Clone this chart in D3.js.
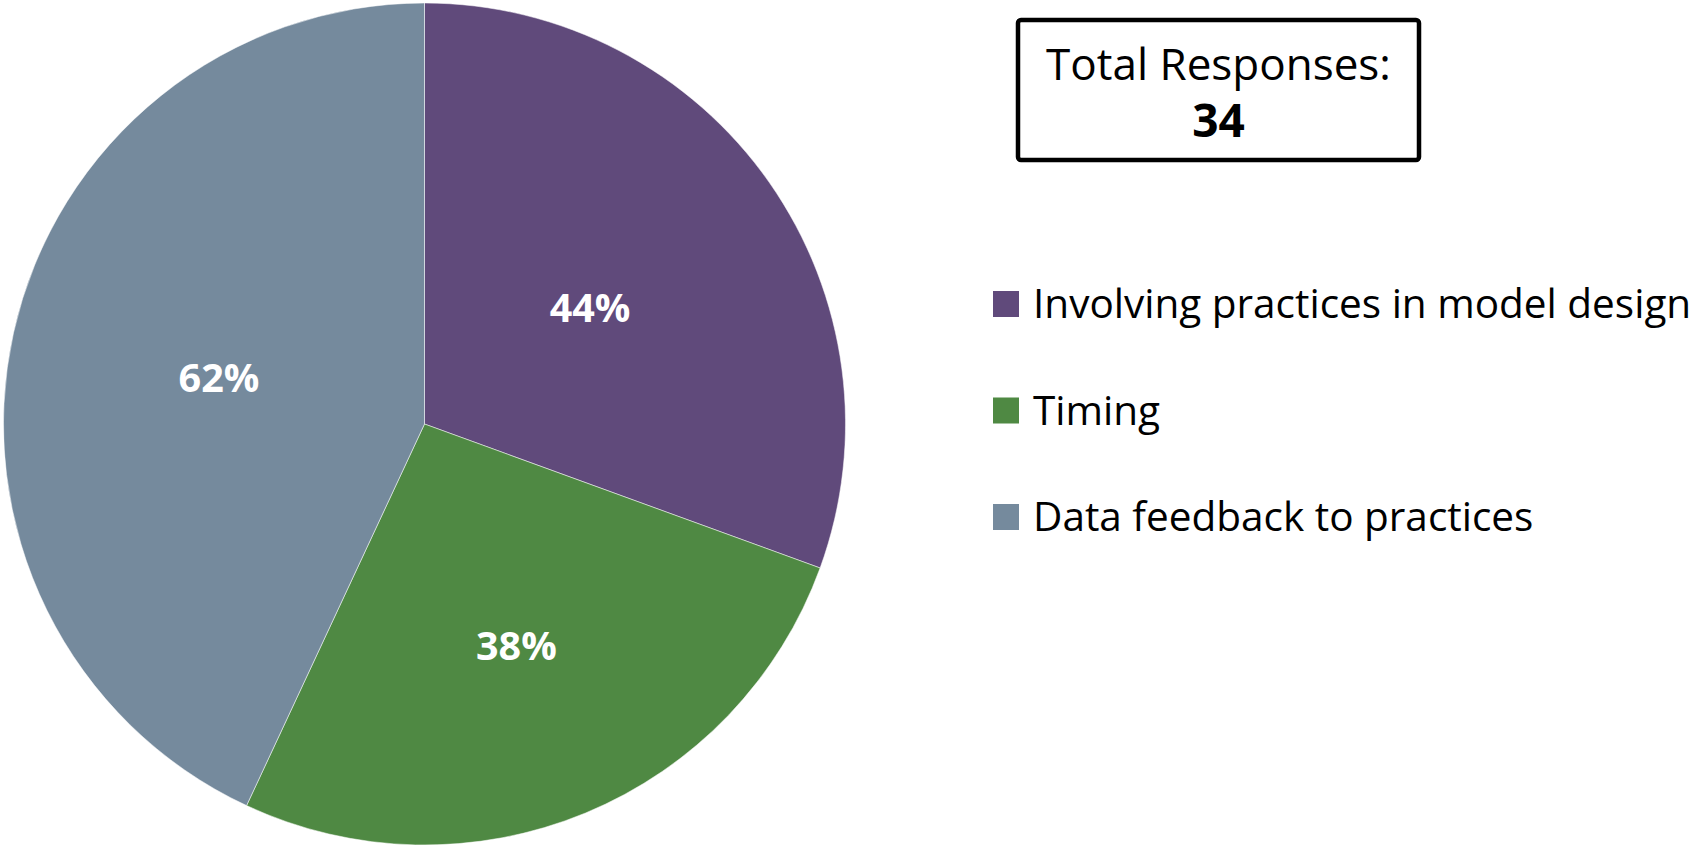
<!DOCTYPE html>
<html>
<head>
<meta charset="utf-8">
<script src="https://cdn.jsdelivr.net/npm/d3@7"></script>
<style>
  html, body { margin: 0; padding: 0; background: #fff; overflow: hidden; }
  svg { display: block; font-family: "Open Sans", "Noto Sans", sans-serif; }
</style>
</head>
<body>
<div id="chart"></div>
<script>
// chart data
const categories = ['Involving practices in model design', 'Timing', 'Data feedback to practices'];
const percents = [44, 38, 62];
const colors = ['#604A7B', '#4F8943', '#758A9D'];
const totalLabel = 'Total Responses:';
const totalResponses = 34;

const width = 1693;
const height = 846;

const svg = d3
  .select('#chart')
  .append('svg')
  .attr('width', width)
  .attr('height', height);

const cx = 424.5;
const cy = 424;
const radius = 421;

const color = d3.scaleOrdinal().domain(categories).range(colors);

const pie = d3
  .pie()
  .sort(null)
  .value((d) => d.value);

const slices = pie(categories.map((c, i) => ({ name: c, value: percents[i] })));

const arc = d3.arc().innerRadius(0).outerRadius(radius);

// labels sit around the middle of each slice, the small one a bit further out
const labelFrac = { Timing: 0.57, 'Data feedback to practices': 0.5 };
const labelArc = (d) => {
  const r = radius * (labelFrac[d.data.name] || 0.48);
  return d3.arc().innerRadius(r).outerRadius(r).centroid(d);
};

const pieG = svg.append('g').attr('transform', `translate(${cx}, ${cy})`);

pieG
  .selectAll('path')
  .data(slices)
  .join('path')
  .attr('d', arc)
  .attr('fill', (d) => color(d.data.name))
  .attr('stroke', '#fff')
  .attr('stroke-opacity', 0.5)
  .attr('stroke-width', 1);

pieG
  .selectAll('text')
  .data(slices)
  .join('text')
  .attr('transform', (d) => `translate(${labelArc(d)})`)
  .attr('text-anchor', 'middle')
  .attr('dy', '0.35em')
  .attr('fill', '#fff')
  .attr('font-weight', 'bold')
  .attr('font-size', 39.5)
  .text((d) => d.data.value + '%');

// total responses box
const box = { x: 1018, y: 20, w: 401, h: 140 };
const boxG = svg.append('g');
boxG
  .append('rect')
  .attr('x', box.x)
  .attr('y', box.y)
  .attr('width', box.w)
  .attr('height', box.h)
  .attr('rx', 3)
  .attr('fill', '#fff')
  .attr('stroke', '#000')
  .attr('stroke-width', 4.5);

boxG
  .append('text')
  .attr('x', box.x + box.w / 2)
  .attr('y', 80)
  .attr('text-anchor', 'middle')
  .attr('font-size', 44)
  .attr('fill', '#000')
  .text(totalLabel);

boxG
  .append('text')
  .attr('x', box.x + box.w / 2)
  .attr('y', 137)
  .attr('text-anchor', 'middle')
  .attr('font-size', 46)
  .attr('font-weight', 'bold')
  .attr('fill', '#000')
  .text(totalResponses);

// legend
const legendY = d3.scalePoint().domain(categories).range([304, 517]);

const legend = svg
  .append('g')
  .selectAll('g')
  .data(categories)
  .join('g')
  .attr('transform', (d) => `translate(993, ${legendY(d)})`);

legend
  .append('rect')
  .attr('x', 0)
  .attr('y', -13)
  .attr('width', 26)
  .attr('height', 26)
  .attr('fill', (d) => color(d));

legend
  .append('text')
  .attr('x', 40)
  .attr('y', 14)
  .attr('font-size', 40.5)
  .attr('fill', '#000')
  .text((d) => d);
</script>
</body>
</html>
